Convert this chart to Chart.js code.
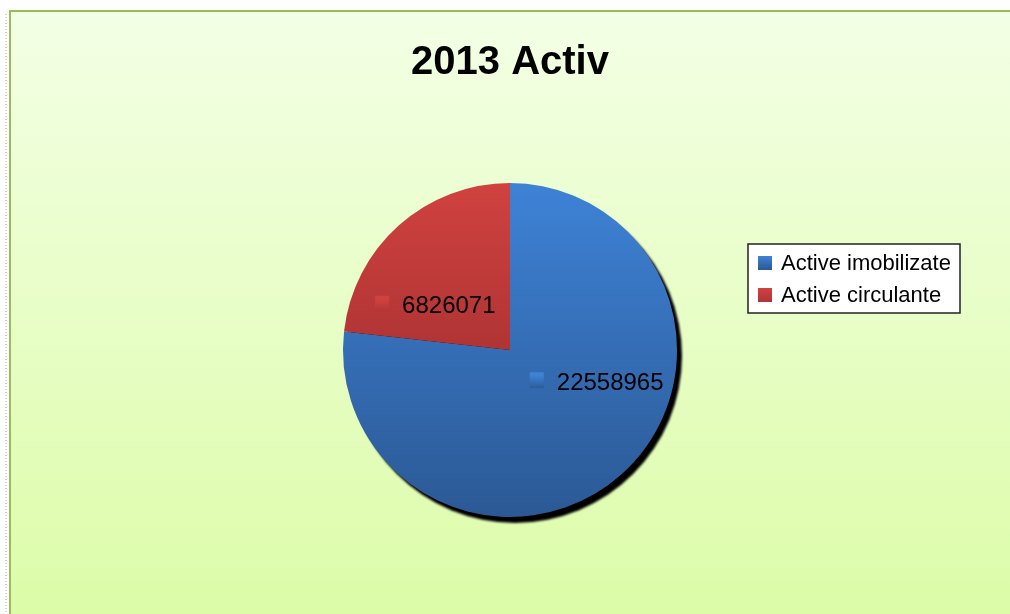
<!DOCTYPE html>
<html>
<head>
<meta charset="utf-8">
<title>2013 Activ</title>
<script src="https://cdn.jsdelivr.net/npm/chart.js@4/dist/chart.umd.min.js"></script>
<style>
    html, body { margin: 0; padding: 0; background: #ffffff; }
    #activ-chart { display: block; }
</style>
</head>
<body>
<canvas id="activ-chart" width="1010" height="614"></canvas>
<script>
// Chart data
const TITLE = '2013 Activ';
const CATEGORIES = ['Active imobilizate', 'Active circulante'];
const VALUES = [22558965, 6826071];

// Slice colours (top / bottom of the gradient)
const TOP_COLORS = ['#3e82d6', '#d04240'];
const BOTTOM_COLORS = ['#2b5995', '#b03434'];

// Nudges for the value labels, relative to the slice centre
const LABEL_SHIFT = [[31, -30], [-19, 18]];

const FONT = '"Liberation Sans", Arial, sans-serif';

// Vertical extent of a slice, used to stretch its gradient
function sliceYRange(cy, r, index) {
    const total = VALUES.reduce((a, b) => a + b, 0);
    let before = 0;
    for (let i = 0; i < index; i++) before += VALUES[i];
    const start = -Math.PI / 2 + 2 * Math.PI * before / total;
    const end = start + 2 * Math.PI * VALUES[index] / total;
    let minY = cy, maxY = cy;
    for (let k = 0; k <= 60; k++) {
        const a = start + (end - start) * k / 60;
        const y = cy + r * Math.sin(a);
        minY = Math.min(minY, y);
        maxY = Math.max(maxY, y);
    }
    return [minY, maxY];
}

function sliceFill(context) {
    const i = context.dataIndex;
    const area = context.chart.chartArea;
    if (!area) return TOP_COLORS[i];
    const cy = (area.top + area.bottom) / 2;
    const r = Math.min(area.right - area.left, area.bottom - area.top) / 2;
    const [y0, y1] = sliceYRange(cy, r, i);
    const g = context.chart.ctx.createLinearGradient(0, y0, 0, y1);
    g.addColorStop(0, TOP_COLORS[i]);
    g.addColorStop(1, BOTTOM_COLORS[i]);
    return g;
}

// Frame + gradient background
const backgroundPlugin = {
    id: 'background',
    beforeDraw(chart) {
        const ctx = chart.ctx;
        const w = chart.width, h = chart.height;
        ctx.save();
        ctx.fillStyle = '#ffffff';
        ctx.fillRect(0, 0, w, h);
        // faint dotted edge at the far left
        ctx.strokeStyle = '#d4d4d4';
        ctx.setLineDash([1, 2]);
        ctx.lineWidth = 2;
        ctx.beginPath();
        ctx.moveTo(6, 14);
        ctx.lineTo(6, h);
        ctx.stroke();
        ctx.setLineDash([]);
        const g = ctx.createLinearGradient(0, 12, 0, h);
        g.addColorStop(0, '#f3ffe5');
        g.addColorStop(1, '#dcfca8');
        ctx.fillStyle = g;
        ctx.fillRect(11, 12, w - 11, h - 12);
        ctx.fillStyle = '#9bbb59';
        ctx.fillRect(9, 10, w - 9, 2);
        ctx.fillRect(9, 10, 2, h - 10);
        ctx.restore();
    }
};

// Hard shadow under the pie
const shadowPlugin = {
    id: 'pieShadow',
    beforeDatasetsDraw(chart) {
        const arc = chart.getDatasetMeta(0).data[0];
        if (!arc) return;
        const ctx = chart.ctx;
        ctx.save();
        ctx.filter = 'blur(1px)';
        ctx.fillStyle = '#000000';
        ctx.beginPath();
        ctx.arc(arc.x + 5, arc.y + 6, arc.outerRadius, 0, Math.PI * 2);
        ctx.fill();
        ctx.restore();
    }
};

// Value labels with a small colour key in front
const valueLabelPlugin = {
    id: 'valueLabels',
    afterDatasetsDraw(chart) {
        const ctx = chart.ctx;
        const meta = chart.getDatasetMeta(0);
        ctx.save();
        ctx.font = '24px ' + FONT;
        ctx.textBaseline = 'middle';
        meta.data.forEach((arc, i) => {
            const p = arc.tooltipPosition();
            const cx = p.x + LABEL_SHIFT[i][0];
            const cy = p.y + LABEL_SHIFT[i][1];
            const text = String(VALUES[i]);
            const tw = ctx.measureText(text).width;
            const box = 14, gap = 13;
            const x0 = cx - (box + gap + tw) / 2;
            const g = ctx.createLinearGradient(0, cy - box / 2, 0, cy + box / 2);
            g.addColorStop(0, TOP_COLORS[i]);
            g.addColorStop(1, BOTTOM_COLORS[i]);
            ctx.fillStyle = g;
            ctx.fillRect(x0, cy - box / 2 - 3, box, box + 2);
            ctx.fillStyle = '#000000';
            ctx.fillText(text, x0 + box + gap, cy + 1);
        });
        ctx.restore();
    }
};

// Boxed legend on the right
const boxLegendPlugin = {
    id: 'boxLegend',
    afterDraw(chart) {
        const ctx = chart.ctx;
        const left = 748, top = 244, width = 212, height = 69;
        ctx.save();
        ctx.fillStyle = '#ffffff';
        ctx.fillRect(left, top, width, height);
        ctx.strokeStyle = '#222222';
        ctx.lineWidth = 1.5;
        ctx.strokeRect(left, top, width, height);
        ctx.font = '22px ' + FONT;
        ctx.textBaseline = 'middle';
        chart.data.labels.forEach((label, i) => {
            const y = top + 19 + i * 32;
            const g = ctx.createLinearGradient(0, y - 7, 0, y + 7);
            g.addColorStop(0, TOP_COLORS[i]);
            g.addColorStop(1, BOTTOM_COLORS[i]);
            ctx.fillStyle = g;
            ctx.fillRect(left + 10, y - 7, 14, 14);
            ctx.fillStyle = '#000000';
            ctx.fillText(label, left + 33, y + 1);
        });
        ctx.restore();
    }
};

function initializeChart() {
    const ctx = document.getElementById('activ-chart').getContext('2d');

    new Chart(ctx, {
        type: 'pie',
        data: {
            labels: CATEGORIES,
            datasets: [{
                data: VALUES,
                backgroundColor: sliceFill,
                borderWidth: 0
            }]
        },
        options: {
            responsive: false,
            animation: false,
            events: [],
            layout: {
                padding: { left: 343, right: 333, top: 12, bottom: 97 }
            },
            plugins: {
                title: {
                    display: true,
                    text: TITLE,
                    color: '#000000',
                    font: { family: FONT, size: 40, weight: 'bold', lineHeight: 1.2 },
                    padding: { top: 27, bottom: 96 }
                },
                legend: { display: false },
                tooltip: { enabled: false }
            }
        },
        plugins: [backgroundPlugin, shadowPlugin, valueLabelPlugin, boxLegendPlugin]
    });
}

document.addEventListener('DOMContentLoaded', initializeChart);
</script>
</body>
</html>
